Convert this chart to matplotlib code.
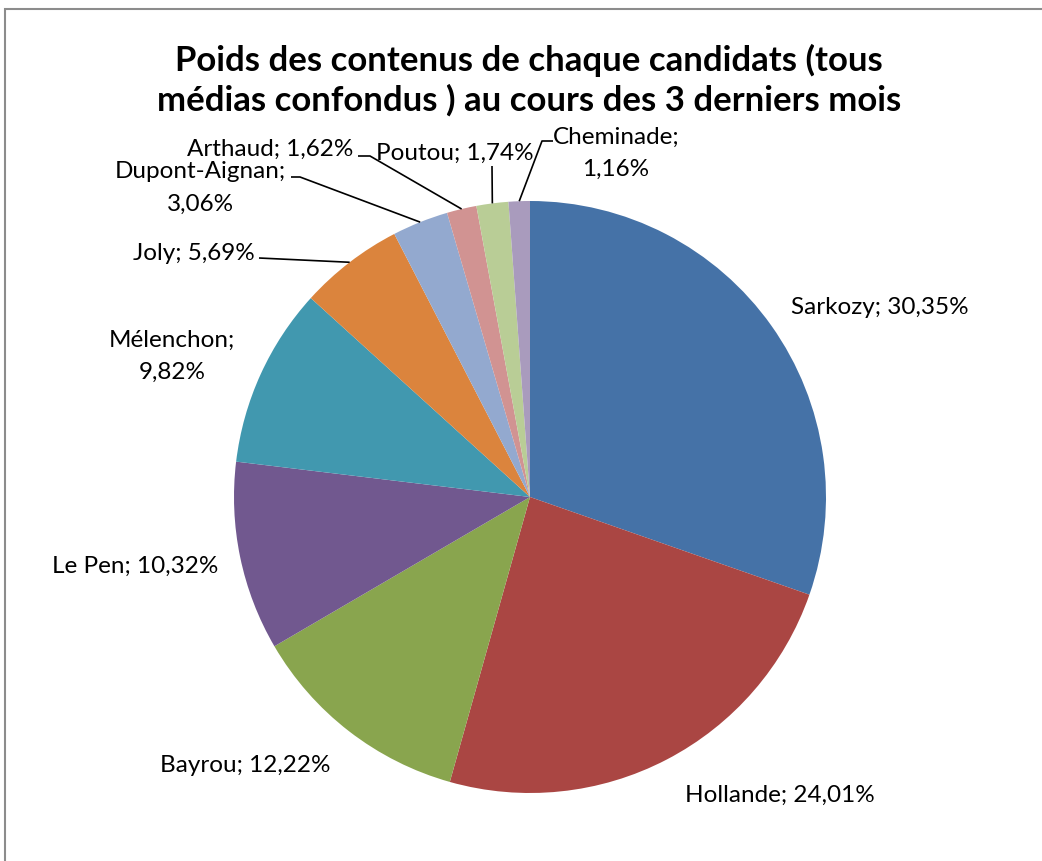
import numpy as np
import matplotlib.pyplot as plt
from matplotlib.patches import Rectangle

candidates = ['Sarkozy', 'Hollande', 'Bayrou', 'Le Pen', 'Mélenchon',
              'Joly', 'Dupont-Aignan', 'Arthaud', 'Poutou', 'Cheminade']
shares = [30.35, 24.01, 12.22, 10.32, 9.82, 5.69, 3.06, 1.62, 1.74, 1.16]
colors = ['#4572A7', '#AA4643', '#89A54E', '#71588F', '#4198AF',
          '#DB843D', '#93A9CF', '#D19392', '#B9CD96', '#A99BBD']

title = 'Poids des contenus de chaque candidats (tous\nmédias confondus ) au cours des 3 derniers mois'

W, H = 1042, 862
cx, cy, R = 530, 498, 296  # pie centre / radius in pixels from the top-left

# label block centres (pixels from top-left), and whether the label breaks onto two lines
label_pos = {
    'Sarkozy': (880, 308, False),
    'Hollande': (780, 795, False),
    'Bayrou': (245, 766, False),
    'Le Pen': (135, 566, False),
    'Mélenchon': (172, 356, True),
    'Joly': (194, 253, False),
    'Dupont-Aignan': (200, 188, True),
    'Arthaud': (270, 149, False),
    'Poutou': (455, 153, False),
    'Cheminade': (616, 153, True),
}
# leader lines: list of points from the text towards the slice edge
leaders = {
    'Joly': [(259, 259)],
    'Dupont-Aignan': [(291, 178), (300, 178)],
    'Arthaud': [(358, 157), (370, 157)],
    'Poutou': [(492, 167)],
    'Cheminade': [(553, 142), (542, 142)],
}

plt.rcParams['font.family'] = ['Lato', 'DejaVu Sans']

fig = plt.figure(figsize=(W / 100, H / 100), dpi=100)
ax = fig.add_axes([0, 0, 1, 1])

def py(y):
    return H - y

wedges, _ = ax.pie(shares, colors=colors, startangle=90, counterclock=False,
                   center=(cx, py(cy)), radius=R,
                   wedgeprops=dict(linewidth=0))
ax.set_xlim(0, W)
ax.set_ylim(0, H)
ax.set_aspect('equal')
ax.axis('off')

total = sum(shares)
cum = 0
for name, val, w in zip(candidates, shares, wedges):
    mid = (cum + val / 2) / total * 2 * np.pi
    cum += val
    ex, ey = cx + R * np.sin(mid), cy - R * np.cos(mid)
    x, y, wrap = label_pos[name]
    pct = ('%.2f%%' % val).replace('.', ',')
    txt = name + ';\n' + pct if wrap else name + '; ' + pct
    ax.text(x, py(y), txt, ha='center', va='center', fontsize=17.5,
            linespacing=1.65, color='black')
    if name in leaders:
        pts = leaders[name] + [(ex, ey)]
        ax.plot([p[0] for p in pts], [py(p[1]) for p in pts],
                color='black', lw=1.2, solid_capstyle='butt')

fig.text(529 / W, 1 - 80 / H, title, ha='center', va='center',
         fontsize=25, fontweight='bold', linespacing=1.28)

fig.add_artist(Rectangle((5 / W, -0.1), 1.2, 1 - 10 / H + 0.1,
                         transform=fig.transFigure, fill=False,
                         edgecolor='#8c8c8c', lw=1.5))

fig.savefig('out.png', dpi=100)
